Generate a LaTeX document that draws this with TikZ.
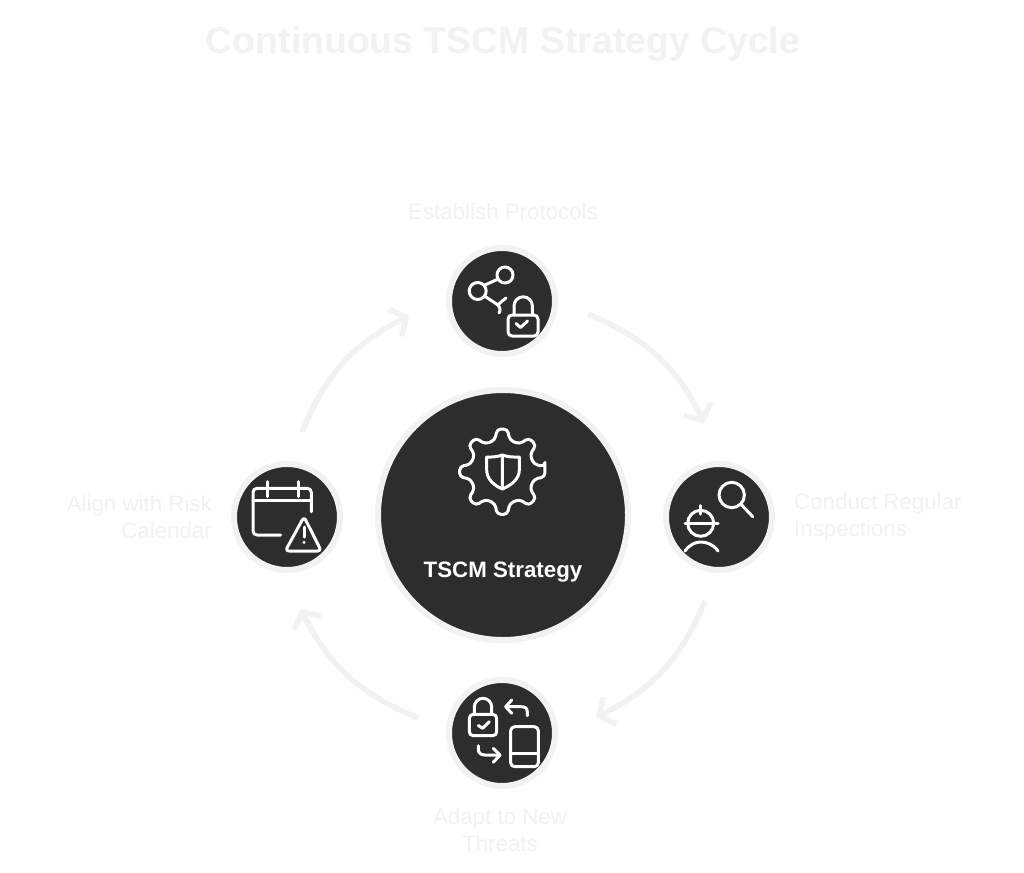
\documentclass[tikz,border=0pt]{standalone}
\usepackage{fontspec}
\setmainfont{Liberation Sans}
\usetikzlibrary{arrows.meta}
\definecolor{ringc}{HTML}{F2F2F2}
\definecolor{darkc}{HTML}{2D2D2D}
\tikzset{
  hub/.style={circle,fill=darkc,draw=ringc,line width=6pt,inner sep=0pt,minimum size=#1},
  lab/.style={text=ringc,font=\fontsize{22.3}{27}\selectfont,inner sep=0pt,align=#1},
  cyc/.style={draw=ringc,line width=5.5pt,shorten >=2pt,-{Straight Barb[length=12pt,width=30pt,line width=5.5pt]}},
  ico/.style={draw=white,line width=3pt,line cap=round,line join=round},
}
\begin{document}
\begin{tikzpicture}[x=1pt,y=-1pt]
\useasboundingbox[fill=white] (0,0) rectangle (1024,872);
\node[text=ringc,font=\bfseries\fontsize{37.4}{40}\selectfont,inner sep=0pt] (title) at (503,44) {Continuous TSCM Strategy Cycle};
\node[hub=250pt] (center) at (503,515) {};
\node[hub=106pt] (top) at (502,301) {};
\node[hub=106pt] (right) at (719,517) {};
\node[hub=106pt] (bottom) at (502,733) {};
\node[hub=106pt] (left) at (287,517) {};
\node[text=white,font=\bfseries\fontsize{22.3}{25}\selectfont,inner sep=0pt] (clabel) at (503,572) {TSCM Strategy};
\node[lab=center] (ltop) at (503,211.5) {Establish Protocols};
\node[lab=left,anchor=west] (lright) at (794,517.5) {Conduct Regular\\Inspections};
\node[lab=center] (lbottom) at (500,830.5) {Adapt to New\\Threats};
\node[lab=right,anchor=east] (lleft) at (212,517) {Align with Risk\\Calendar};
\coordinate (a1) at (588,314); \coordinate (a2) at (705,425);
\coordinate (b1) at (705,601); \coordinate (b2) at (594,718);
\coordinate (c1) at (418,718); \coordinate (c2) at (300,607);
\coordinate (d1) at (302,432); \coordinate (d2) at (411,315);
\draw[cyc] (a1) to[bend left=21] (a2);
\draw[cyc] (b1) to[bend left=21] (b2);
\draw[cyc] (c1) to[bend left=21] (c2);
\draw[cyc] (d1) to[bend left=21] (d2);
% gear icon
\begin{scope}[shift={(502.3,471.7)}]
\draw[ico,rounded corners=4pt]
  (-7:43) \foreach \t in {0,45,...,315}{
    -- ({\t+7}:43) -- ({\t+13}:32.5) -- ({\t+32}:32.5) -- ({\t+38}:43)
  } -- cycle;
\end{scope}
\draw[ico] (502.3,455) .. controls (495,457.5) and (491,457) .. (486.7,457) -- (486.7,470) .. controls (486.7,479) and (494,485.5) .. (502.3,489) .. controls (511,485.5) and (519.3,479) .. (519.3,470) -- (519.3,457) .. controls (514,457) and (509,457.5) .. (502.3,455) -- (502.3,489);
% share + lock
\draw[ico] (505,275) circle (8);
\draw[ico] (477.7,291) circle (8.5);
\draw[ico] (485,285) -- (497,279.5);
\draw[ico] (486,297) -- (498,305);
\draw[ico] (506,298) .. controls (503,300) and (501,302) .. (498,305) .. controls (500,308) and (501,310) .. (499,313);
\draw[ico,rounded corners=4pt] (508,315) rectangle (538,336);
\draw[ico] (514,315) -- (514,306) arc[start angle=180,end angle=360,radius=9.2] -- (532.4,315);
\draw[ico] (516,323.5) -- (520.5,327.5) -- (527.5,321);
% inspector
\draw[ico] (731.7,495) circle (12.7);
\draw[ico] (741.7,505) -- (752.7,516.7);
\draw[ico] (700.7,523.3) circle (13);
\draw[ico] (685,523.3) -- (718,523.3);
\draw[ico] (700.7,505.5) -- (700.7,514);
\draw[ico] (685,551) .. controls (690,544) and (696,542) .. (700.7,542) .. controls (706,542) and (713,544) .. (718,551);
% lock + phone
\draw[ico,rounded corners=4pt] (469.3,714.3) rectangle (496.7,735.7);
\draw[ico] (474.3,714.3) -- (474.3,707) arc[start angle=180,end angle=360,radius=8.7] -- (491.7,714.3);
\draw[ico] (478.3,725.5) -- (482.7,728.3) -- (489.3,721.7);
\draw[ico] (527.3,715.7) -- (527.3,712) .. controls (527.3,708) and (525,706.7) .. (521,706.7) -- (505.7,706.7);
\draw[ico] (511.7,700) -- (505.7,706.7) -- (511.7,713.3);
\draw[ico] (478.3,745.7) -- (478.3,749) .. controls (478.3,753) and (481,755) .. (485,755) -- (500,755);
\draw[ico] (493.3,748.3) -- (500,755) -- (493.3,762.3);
\draw[ico,rounded corners=4pt] (510.7,726.7) rectangle (538.3,766.7);
\draw[ico] (510.7,753.3) -- (538.3,753.3);
% calendar + warning
\draw[ico,rounded corners=4pt] (311.3,511.7) -- (311.3,488.3) -- (253,488.3) -- (253,535) -- (280.7,535);
\draw[ico] (253,500) -- (311.3,500);
\draw[ico] (267.3,481.7) -- (267.3,496.7);
\draw[ico] (298,481.7) -- (298,496.7);
\draw[ico,rounded corners=3.5pt] (304,516.7) -- (285.3,551) -- (321.3,551) -- cycle;
\draw[ico] (304,527) -- (304,537);
\fill[white] (304,542.3) circle (1.8);
\end{tikzpicture}
\end{document}
